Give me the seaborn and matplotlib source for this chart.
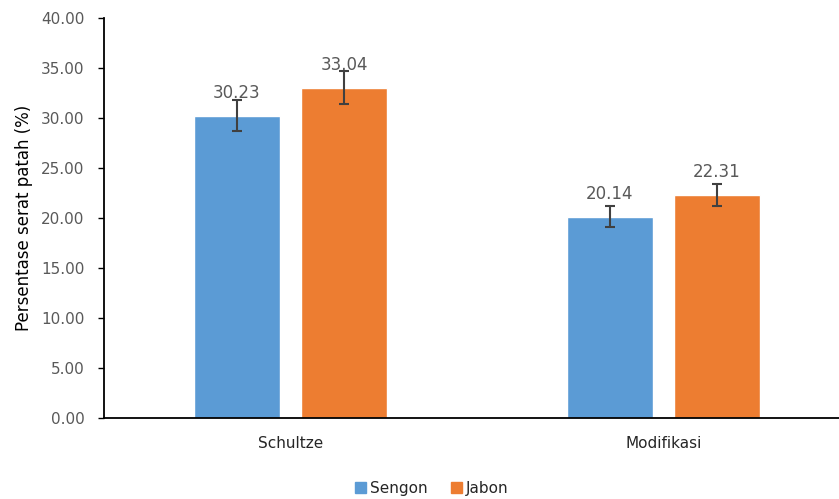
import pandas as pd
import matplotlib
matplotlib.use("Agg")
import matplotlib.pyplot as plt
import matplotlib.patches as mpatches
import seaborn as sns

# data
methods = ["Schultze", "Modifikasi"]
species = ["Sengon", "Jabon"]
sengon = [30.23, 20.14]
jabon = [33.04, 22.31]
sengon_err = [1.55, 1.03]
jabon_err = [1.65, 1.13]

df = pd.DataFrame({
    "metode": methods * 2,
    "jenis": ["Sengon"] * 2 + ["Jabon"] * 2,
    "nilai": sengon + jabon,
    "err": sengon_err + jabon_err,
})

colors = {"Sengon": "#5B9BD5", "Jabon": "#ED7D31"}
grey = "#595959"

sns.set_style("white")
plt.rcParams["font.family"] = ["DejaVu Sans"]

fig = plt.figure(figsize=(8.39, 4.99), dpi=100)
ax = fig.add_axes([104 / 839, 81 / 499, 746 / 839, 400 / 499])

sns.barplot(data=df, x="metode", y="nilai", hue="jenis", order=methods,
            hue_order=species, palette=colors, width=0.574, gap=0.2,
            errorbar=None, saturation=1, legend=False, ax=ax)

# error bars and value labels at each bar centre
for cont, sp in zip(ax.containers, species):
    sub = df[df["jenis"] == sp].set_index("metode").loc[methods]
    xs = [p.get_x() + p.get_width() / 2 for p in cont.patches]
    ax.errorbar(xs, sub["nilai"], yerr=sub["err"], fmt="none",
                ecolor="#404040", elinewidth=1.5, capsize=3.6, capthick=1.5)
    for x, v in zip(xs, sub["nilai"]):
        ax.annotate(f"{v:.2f}", (x, v), xytext=(0, 16.3), textcoords="offset points",
                    ha="center", va="center", fontsize=12, color=grey)

ax.set_ylim(0, 40)
ax.set_yticks(range(0, 41, 5))
ax.set_yticklabels([f"{t:.2f}" for t in range(0, 41, 5)])
ax.set_xlim(-0.5, 1.5)
ax.set_xlabel("")
ax.set_ylabel("Persentase serat patah (%)", fontsize=12, color="black", labelpad=6)
ax.tick_params(axis="y", labelsize=11, labelcolor=grey, length=4, width=1,
               color="black", pad=10, left=True, direction="out")
ax.tick_params(axis="x", labelsize=11, labelcolor="#262626", length=0, pad=13)
for s in ["top", "right"]:
    ax.spines[s].set_visible(False)
for s in ["left", "bottom"]:
    ax.spines[s].set_color("black")
    ax.spines[s].set_linewidth(1.3)

handles = [mpatches.Patch(color=colors[s], label=s) for s in species]
fig.legend(handles=handles, loc="center", bbox_to_anchor=(432 / 839, 1 - 488 / 499),
           ncol=2, frameon=False, fontsize=11, handlelength=0.7, handleheight=0.7,
           handletextpad=0.3, columnspacing=1.5, labelcolor="#262626")

fig.savefig("out.png", dpi=100)
